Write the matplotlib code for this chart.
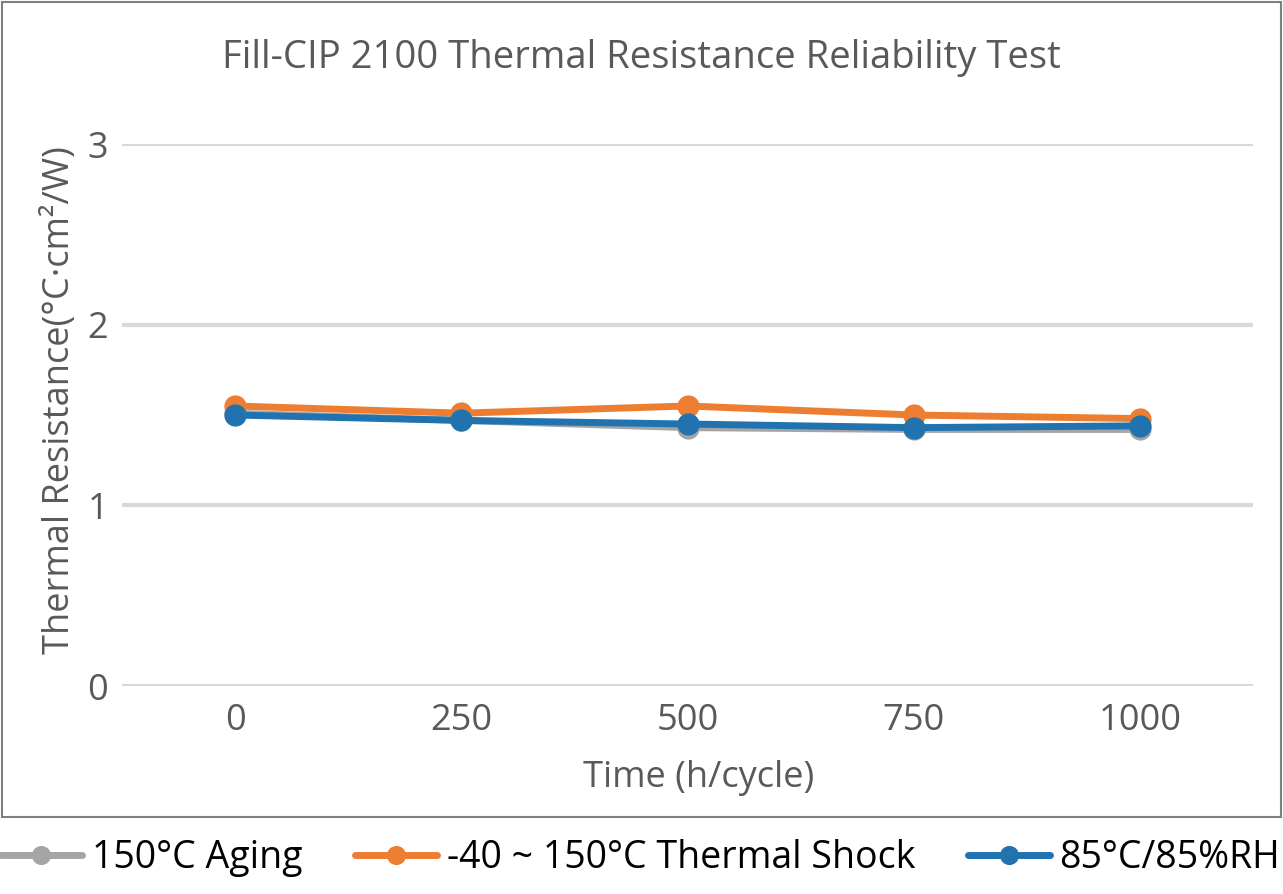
import numpy as np
import matplotlib
matplotlib.use("Agg")
import matplotlib.pyplot as plt
from matplotlib import font_manager
from matplotlib.patches import Rectangle

# data
times = ["0", "250", "500", "750", "1000"]
aging = [1.51, 1.47, 1.43, 1.42, 1.42]
shock = [1.55, 1.51, 1.55, 1.50, 1.48]
humid = [1.50, 1.47, 1.45, 1.43, 1.44]

series_names = ["150°C Aging", "-40 ~ 150°C Thermal Shock", "85°C/85%RH"]
series_colors = ["#a5a5a5", "#ed7d31", "#2173b0"]

names = {f.name for f in font_manager.fontManager.ttflist}
main_font = "Open Sans" if "Open Sans" in names else "DejaVu Sans"
plt.rcParams["font.family"] = [main_font, "DejaVu Sans"]

W, H = 1283, 894
fig = plt.figure(figsize=(W / 100, H / 100), dpi=100)

# outer chart border
fig.patches.append(Rectangle((2 / W, 1 - 817 / H), 1279 / W, 815 / H,
                             transform=fig.transFigure, fill=False,
                             edgecolor="#7f7f7f", linewidth=1.5))

ax = fig.add_axes([122 / W, 1 - 686 / H, (1253 - 122) / W, (686 - 144) / H])
x = np.arange(len(times))

for vals, name, col in zip([aging, shock, humid], series_names, series_colors):
    ax.plot(x, vals, color=col, linewidth=5, marker="o", markersize=15,
            label=name, solid_capstyle="round")

ax.set_xlim(-0.5, len(times) - 0.5)
ax.set_ylim(0, 3)
ax.set_yticks([0, 1, 2, 3])
ax.set_xticks(x)
ax.set_xticklabels(times)
ax.yaxis.grid(True, color="#d9d9d9", linewidth=3)
ax.set_axisbelow(True)
for s in ax.spines.values():
    s.set_visible(False)
ax.tick_params(length=0, labelsize=26, colors="#595959")
ax.tick_params(axis="y", pad=10)
ax.tick_params(axis="x", pad=12)

ax.set_xlabel("Time (h/cycle)", fontsize=26, color="#595959")
ax.xaxis.set_label_coords((699 - 122) / 1131, -74 / 542)
ax.set_ylabel("Thermal Resistance(°C·cm²/W)", fontsize=26, color="#595959")
ax.yaxis.set_label_coords(-44 / 1131, 0.528)

fig.text(641 / W, 1 - 58 / H, "Fill-CIP 2100 Thermal Resistance Reliability Test",
         ha="center", va="center", fontsize=27.5, color="#595959")

leg = fig.legend(loc="center", bbox_to_anchor=(640 / W, 1 - 858 / H), ncol=3,
                 frameon=False, prop={"size": 27},
                 handlelength=2.2, columnspacing=1.4, handletextpad=0.25,
                 markerscale=0.85)

fig.savefig("out.png", dpi=100)
